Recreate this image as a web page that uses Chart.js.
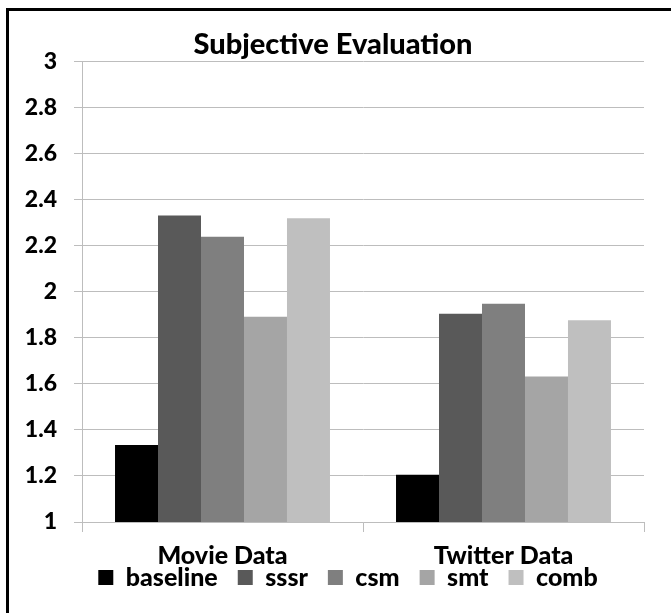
<!DOCTYPE html>
<html>
<head>
<meta charset="utf-8">
<script src="https://cdn.jsdelivr.net/npm/chart.js@4"></script>
<style>
  body { margin: 0; background: #fff; }
  #wrap { position: relative; width: 671px; height: 613px; }
  #frame { position: absolute; left: 6px; top: 8px; right: 0; bottom: 0;
           border-top: 3px solid #000; border-left: 3px solid #000; }
  canvas { position: absolute; left: 0; top: 0; }
</style>
</head>
<body>
<div id="wrap">
  <div id="frame"></div>
  <canvas id="chart" width="671" height="613"></canvas>
</div>
<script>
// values
const categories = ["Movie Data", "Twitter Data"];
const seriesNames = ["baseline", "sssr", "csm", "smt", "comb"];
const baseline = [1.335, 1.205];
const sssr = [2.332, 1.905];
const csm = [2.24, 1.948];
const smt = [1.892, 1.632];
const comb = [2.32, 1.877];
const yTicks = [1, 1.2, 1.4, 1.6, 1.8, 2, 2.2, 2.4, 2.6, 2.8, 3];

const colors = ["#000000", "#595959", "#7f7f7f", "#a5a5a5", "#bfbfbf"];
const allValues = [baseline, sssr, csm, smt, comb];
const fontFamily = "Lato, 'Noto Sans', sans-serif";
const heavy = "900";

// legend sits tight under the category labels, like in excel
const legendNudge = { x: 15, y: -35 };

const datasets = seriesNames.map((name, i) => ({
    label: name,
    data: allValues[i],
    backgroundColor: colors[i],
    borderWidth: 0,
    categoryPercentage: 0.765,
    barPercentage: 1.0
}));

const nudgeLegend = {
    id: "nudgeLegend",
    afterLayout(chart) {
        const lg = chart.legend;
        lg.left += legendNudge.x;
        lg.right += legendNudge.x;
        lg.top += legendNudge.y; // bottom stays, so the clip box only grows
    }
};

new Chart(document.getElementById("chart"), {
    type: "bar",
    data: { labels: categories, datasets: datasets },
    plugins: [nudgeLegend],
    options: {
        responsive: false,
        animation: false,
        layout: { padding: { top: 27, left: 22, right: 27, bottom: 3 } },
        plugins: {
            title: {
                display: true,
                text: "Subjective Evaluation",
                color: "#000",
                font: { family: fontFamily, size: 29, weight: heavy },
                padding: { top: 0, bottom: 0 }
            },
            legend: {
                position: "bottom",
                maxHeight: 30,
                labels: {
                    color: "#000",
                    font: { family: fontFamily, size: 25, weight: heavy },
                    boxWidth: 15,
                    boxHeight: 15,
                    padding: 20
                }
            },
            tooltip: { enabled: false }
        },
        scales: {
            x: {
                grid: {
                    offset: true,
                    drawOnChartArea: false,
                    drawTicks: true,
                    tickLength: 10,
                    color: "#bdbdbd"
                },
                border: { color: "#bdbdbd", width: 1 },
                ticks: {
                    color: "#000",
                    padding: 9,
                    font: { family: fontFamily, size: 25, weight: heavy }
                }
            },
            y: {
                min: 1,
                max: 3,
                afterBuildTicks: (scale) => {
                    scale.ticks = yTicks.map(v => ({ value: v }));
                },
                afterFit: (scale) => { scale.width = 60; },
                grid: {
                    color: "#bdbdbd",
                    tickLength: 8,
                    lineWidth: 1
                },
                border: { color: "#bdbdbd", width: 1 },
                ticks: {
                    color: "#000",
                    padding: 17,
                    font: { family: fontFamily, size: 23, weight: heavy },
                    callback: (v) => String(Math.round(v * 10) / 10)
                }
            }
        }
    }
});
</script>
</body>
</html>
